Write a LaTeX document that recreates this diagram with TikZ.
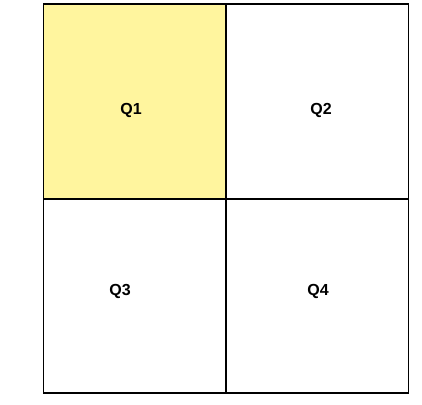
\documentclass[tikz,border=0pt]{standalone}
\usepackage{fontspec}
\setmainfont{Liberation Sans}
\definecolor{qyellow}{HTML}{FFF59E}
\begin{document}
\begin{tikzpicture}[x=1pt,y=-1pt,
  cell/.style={draw=black,line width=1.6pt,minimum width=182pt,minimum height=194.5pt,inner sep=0pt,outer sep=0pt},
  lbl/.style={font=\fontsize{16}{18}\selectfont\bfseries}]
\useasboundingbox (0,0) rectangle (422,404);
\fill[white] (0,0) rectangle (422,404);
\node[cell,fill=qyellow] (q1) at (134.5,101.5) {};
\node[cell] (q2) at (317.5,101.5) {};
\node[cell] (q3) at (134.5,296) {};
\node[cell] (q4) at (317.5,296) {};
\node[lbl] (t1) at (131,110) {Q1};
\node[lbl] (t2) at (321,110) {Q2};
\node[lbl] (t3) at (120,291) {Q3};
\node[lbl] (t4) at (318,291) {Q4};
\end{tikzpicture}
\end{document}
